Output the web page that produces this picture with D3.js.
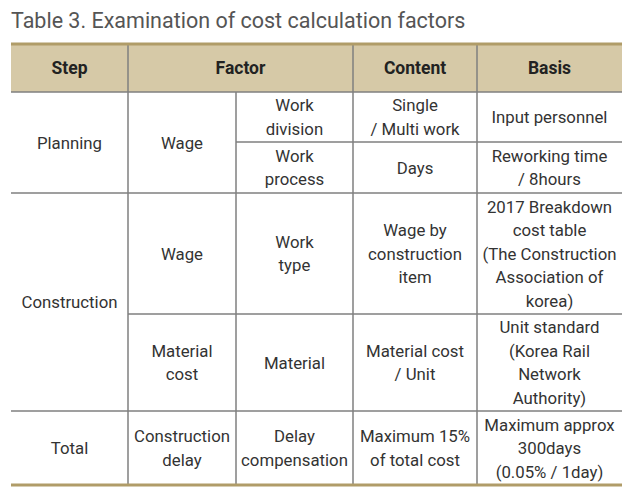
<!DOCTYPE html>
<html>
<head>
<meta charset="utf-8">
<script src="https://cdn.jsdelivr.net/npm/d3@7"></script>
<style>
  body { margin: 0; background: #fff; }
  svg text { font-family: Roboto, "Liberation Sans", sans-serif; }
</style>
</head>
<body>
<div id="chart"></div>
<script>
// table content
let title = "Table 3. Examination of cost calculation factors";
let headers = ["Step", "Factor", "Content", "Basis"];
let headerSpans = [1, 2, 1, 1];

// body cells: text lines, column, row, colspan, rowspan
let cellText = [
    ["Planning"], ["Wage"], ["Work", "division"], ["Single", "/ Multi work"], ["Input personnel"],
    ["Work", "process"], ["Days"], ["Reworking time", "/ 8hours"],
    ["Construction"], ["Wage"], ["Work", "type"], ["Wage by", "construction", "item"],
    ["2017 Breakdown", "cost table", "(The Construction", "Association of", "korea)"],
    ["Material", "cost"], ["Material"], ["Material cost", "/ Unit"],
    ["Unit standard", "(Korea Rail", "Network", "Authority)"],
    ["Total"], ["Construction", "delay"], ["Delay", "compensation"], ["Maximum 15%", "of total cost"],
    ["Maximum approx", "300days", "(0.05% / 1day)"]
];
let cellCol =  [0, 1, 2, 3, 4, 2, 3, 4, 0, 1, 2, 3, 4, 1, 2, 3, 4, 0, 1, 2, 3, 4];
let cellRow =  [0, 0, 0, 0, 0, 1, 1, 1, 2, 2, 2, 2, 2, 3, 3, 3, 3, 4, 4, 4, 4, 4];
let cellRowSpan = [2, 2, 1, 1, 1, 1, 1, 1, 2, 1, 1, 1, 1, 1, 1, 1, 1, 1, 1, 1, 1, 1];

let svg = d3.select("#chart").append("svg")
    .attr("width", 642)
    .attr("height", 488);

// column / row edges
let xEdge = d3.scaleOrdinal().domain(d3.range(6)).range([11, 128, 236, 353, 477, 622]);
let yEdge = d3.scaleOrdinal().domain(d3.range(6)).range([92, 142, 193, 314, 411, 485]);
let tableTop = 44;
let lineH = 23.5;
let gridColor = "#7f7f7f";
let borderColor = "#b09c68";

svg.append("text")
    .attr("x", 11)
    .attr("y", 28)
    .attr("font-size", 21.5)
    .attr("fill", "#555")
    .text(title);

// header
svg.append("rect")
    .attr("x", xEdge(0)).attr("y", tableTop)
    .attr("width", xEdge(5) - xEdge(0)).attr("height", yEdge(0) - tableTop)
    .attr("fill", "#d6c9a7");

let hx = 0;
let headerCells = headers.map(function(h, i) {
    let c = {text: h, c0: hx, c1: hx + headerSpans[i]};
    hx += headerSpans[i];
    return c;
});

svg.selectAll(".hdiv")
    .data(headerCells.slice(1))
    .enter().append("line")
    .attr("x1", d => xEdge(d.c0)).attr("x2", d => xEdge(d.c0))
    .attr("y1", tableTop).attr("y2", yEdge(0))
    .attr("stroke", gridColor).attr("stroke-width", 1.5);

svg.selectAll(".htext")
    .data(headerCells)
    .enter().append("text")
    .attr("x", d => (xEdge(d.c0) + xEdge(d.c1)) / 2)
    .attr("y", (tableTop + yEdge(0)) / 2 + 6)
    .attr("text-anchor", "middle")
    .attr("font-size", 17.5)
    .attr("font-weight", "bold")
    .attr("fill", "#222")
    .text(d => d.text);

// body cells
let cells = cellText.map(function(t, i) {
    return {
        lines: t,
        c0: cellCol[i], c1: cellCol[i] + 1,
        r0: cellRow[i], r1: cellRow[i] + cellRowSpan[i]
    };
});

// vertical lines (right side of each cell, not last column)
svg.selectAll(".vline")
    .data(cells.filter(d => d.c1 < 5))
    .enter().append("line")
    .attr("x1", d => xEdge(d.c1)).attr("x2", d => xEdge(d.c1))
    .attr("y1", d => yEdge(d.r0)).attr("y2", d => yEdge(d.r1))
    .attr("stroke", gridColor).attr("stroke-width", 1.5);

// horizontal lines (bottom of each cell, not last row) + header bottom
svg.selectAll(".hline")
    .data(cells.filter(d => d.r1 < 5))
    .enter().append("line")
    .attr("x1", d => xEdge(d.c0)).attr("x2", d => xEdge(d.c1))
    .attr("y1", d => yEdge(d.r1)).attr("y2", d => yEdge(d.r1))
    .attr("stroke", gridColor).attr("stroke-width", 1.5);

svg.append("line")
    .attr("x1", xEdge(0)).attr("x2", xEdge(5))
    .attr("y1", yEdge(0)).attr("y2", yEdge(0))
    .attr("stroke", gridColor).attr("stroke-width", 1.5);

// top and bottom borders
[tableTop, yEdge(5)].forEach(function(y) {
    svg.append("line")
        .attr("x1", xEdge(0)).attr("x2", xEdge(5))
        .attr("y1", y).attr("y2", y)
        .attr("stroke", borderColor).attr("stroke-width", 3);
});

let cellTexts = svg.selectAll(".ctext")
    .data(cells)
    .enter().append("text")
    .attr("text-anchor", "middle")
    .attr("font-size", 16.8)
    .attr("fill", "#333");

cellTexts.each(function(d) {
    let cx = (xEdge(d.c0) + xEdge(d.c1)) / 2;
    let cy = (yEdge(d.r0) + yEdge(d.r1)) / 2;
    let n = d.lines.length;
    d3.select(this).selectAll("tspan")
        .data(d.lines)
        .enter().append("tspan")
        .attr("x", cx)
        .attr("y", (l, i) => cy - (n - 1) * lineH / 2 + i * lineH + 6)
        .text(l => l);
});
</script>
</body>
</html>
